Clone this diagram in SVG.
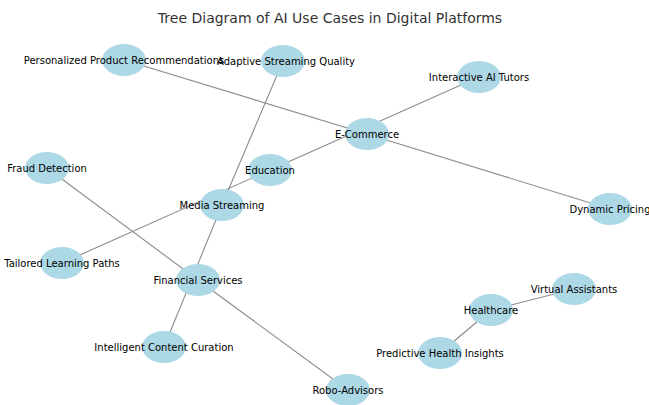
<svg xmlns="http://www.w3.org/2000/svg" width="649" height="405" viewBox="0 0 649 405">
<style>
.n ellipse{fill:#add8e6;}
.n text{font-family:"DejaVu Sans",sans-serif;font-size:10px;fill:#000;text-anchor:middle;dominant-baseline:central;}
.e line{stroke:#8c8c8c;stroke-width:1.1;}
.title{font-family:"DejaVu Sans",sans-serif;font-size:14px;fill:#333;text-anchor:middle;}
</style>
<rect width="649" height="405" fill="#fff"/>
<text class="title" x="330" y="23">Tree Diagram of AI Use Cases in Digital Platforms</text>
<g id="edges" class="e">
<line x1="367" y1="134" x2="124" y2="60"/>
<line x1="367" y1="134" x2="610" y2="209"/>
<line x1="270" y1="170" x2="479" y2="77"/>
<line x1="270" y1="170" x2="62" y2="263"/>
<line x1="222" y1="205" x2="283" y2="61"/>
<line x1="222" y1="205" x2="164" y2="347"/>
<line x1="198" y1="280" x2="47" y2="168"/>
<line x1="198" y1="280" x2="348" y2="390"/>
<line x1="491" y1="310" x2="574" y2="289"/>
<line x1="491" y1="310" x2="440" y2="353"/>
</g>
<g id="n-ecommerce" class="n"><ellipse cx="367" cy="134" rx="22" ry="16"/><text x="367" y="134">E-Commerce</text></g>
<g id="n-ppr" class="n"><ellipse cx="124" cy="60" rx="22" ry="16"/><text x="124" y="60">Personalized Product Recommendations</text></g>
<g id="n-dp" class="n"><ellipse cx="610" cy="209" rx="22" ry="16"/><text x="610" y="209">Dynamic Pricing</text></g>
<g id="n-education" class="n"><ellipse cx="270" cy="170" rx="22" ry="16"/><text x="270" y="170">Education</text></g>
<g id="n-iat" class="n"><ellipse cx="479" cy="77" rx="22" ry="16"/><text x="479" y="77">Interactive AI Tutors</text></g>
<g id="n-tlp" class="n"><ellipse cx="62" cy="263" rx="22" ry="16"/><text x="62" y="263">Tailored Learning Paths</text></g>
<g id="n-media" class="n"><ellipse cx="222" cy="205" rx="22" ry="16"/><text x="222" y="205">Media Streaming</text></g>
<g id="n-asq" class="n"><ellipse cx="283" cy="61" rx="22" ry="16"/><text x="286" y="61">Adaptive Streaming Quality</text></g>
<g id="n-icc" class="n"><ellipse cx="164" cy="347" rx="22" ry="16"/><text x="164" y="347">Intelligent Content Curation</text></g>
<g id="n-fs" class="n"><ellipse cx="198" cy="280" rx="22" ry="16"/><text x="198" y="280">Financial Services</text></g>
<g id="n-fd" class="n"><ellipse cx="47" cy="168" rx="22" ry="16"/><text x="47" y="168">Fraud Detection</text></g>
<g id="n-ra" class="n"><ellipse cx="348" cy="390" rx="22" ry="16"/><text x="348" y="390">Robo-Advisors</text></g>
<g id="n-health" class="n"><ellipse cx="491" cy="310" rx="22" ry="16"/><text x="491" y="310">Healthcare</text></g>
<g id="n-va" class="n"><ellipse cx="574" cy="289" rx="22" ry="16"/><text x="574" y="289">Virtual Assistants</text></g>
<g id="n-phi" class="n"><ellipse cx="440" cy="353" rx="22" ry="16"/><text x="440" y="353">Predictive Health Insights</text></g>
</svg>
